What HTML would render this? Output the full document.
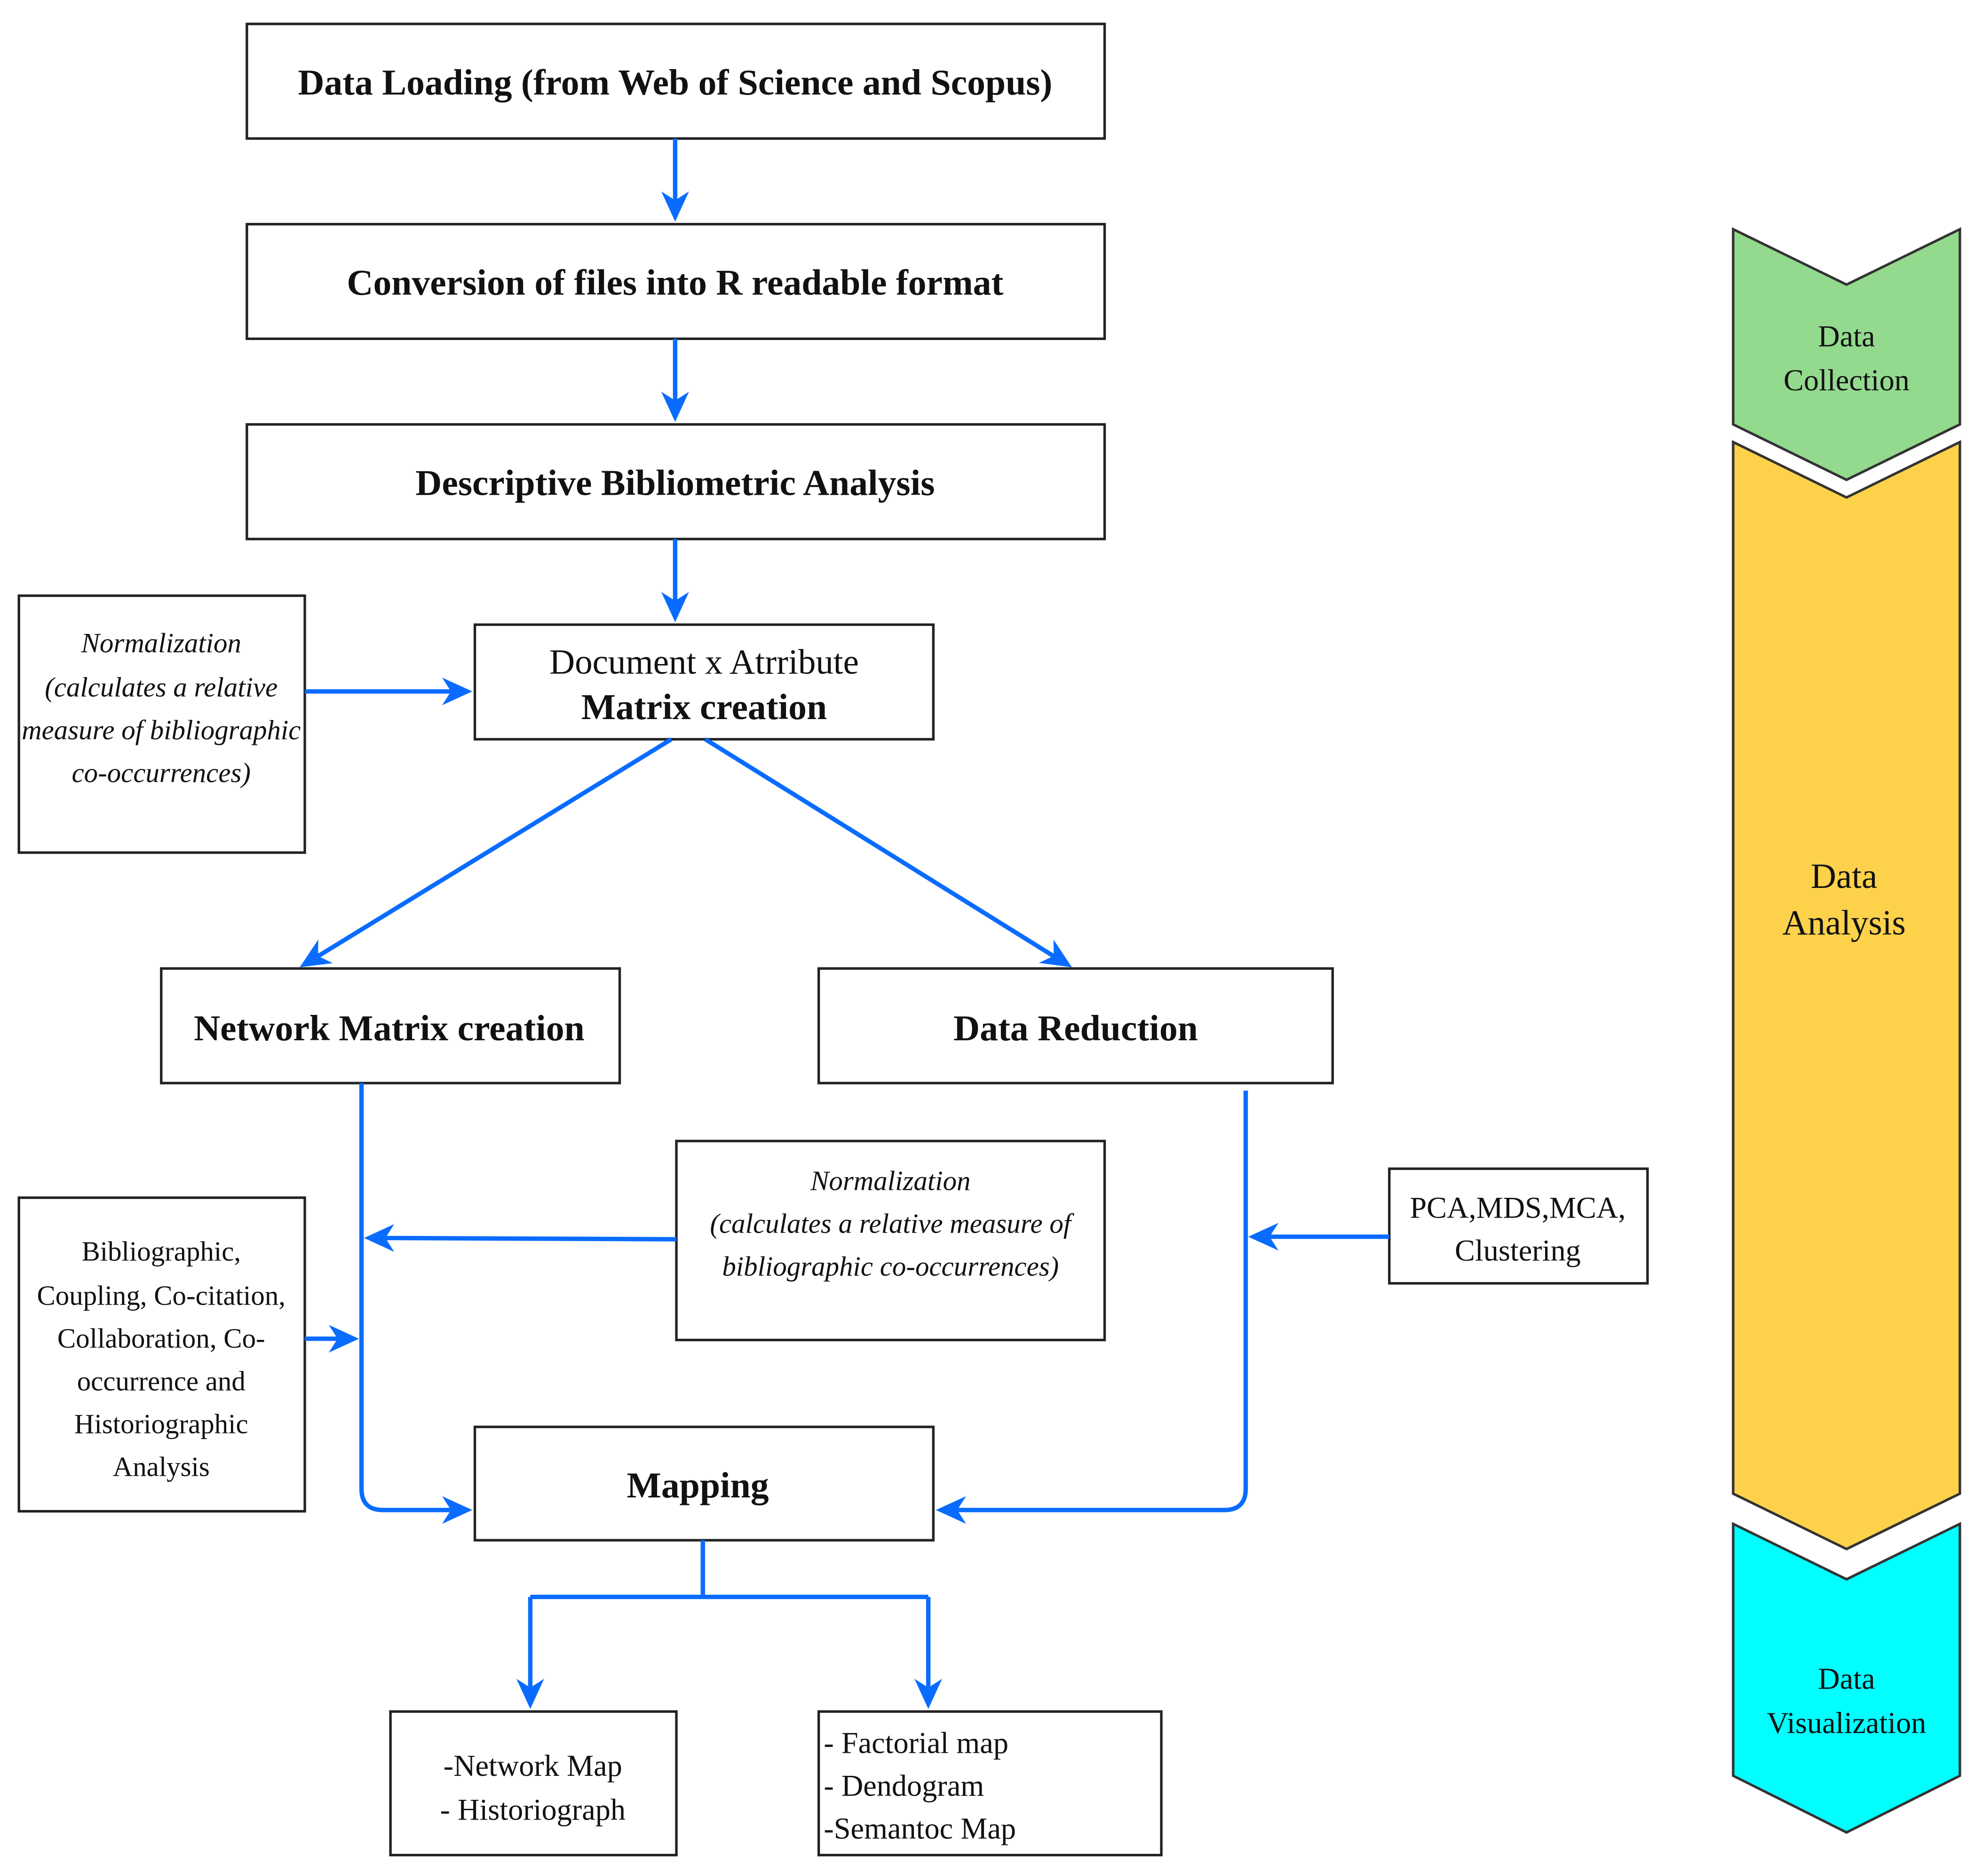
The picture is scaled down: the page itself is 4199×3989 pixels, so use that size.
<!DOCTYPE html>
<html><head><meta charset="utf-8"><style>html,body{margin:0;padding:0;background:#fff}svg{display:block}</style></head>
<body>
<svg width="4199" height="3989" viewBox="0 0 1568 1489.6" preserveAspectRatio="none" xmlns="http://www.w3.org/2000/svg" font-family="Liberation Serif, serif">
<g fill="#fff" stroke="#222" stroke-width="2">
<rect x="196" y="19" width="681" height="91"/>
<rect x="196" y="178" width="681" height="91"/>
<rect x="196" y="337" width="681" height="91"/>
<rect x="15" y="473" width="227" height="204"/>
<rect x="377" y="496" width="364" height="91"/>
<rect x="128" y="769" width="364" height="91"/>
<rect x="650" y="769" width="408" height="91"/>
<rect x="537" y="906" width="340" height="158"/>
<rect x="1103" y="928" width="205" height="91"/>
<rect x="15" y="951" width="227" height="249"/>
<rect x="377" y="1133" width="364" height="90"/>
<rect x="310" y="1359" width="227" height="114"/>
<rect x="650" y="1359" width="272" height="114"/>
</g>
<g stroke="#333" stroke-width="2">
<path d="M1376,182 L1466,226 L1556,182 L1556,337 L1466,381 L1376,337 Z" fill="#93d98e"/>
<path d="M1376,351 L1466,395 L1556,351 L1556,1186 L1466,1230 L1376,1186 Z" fill="#fdd14a"/>
<path d="M1376,1210 L1466,1254 L1556,1210 L1556,1410 L1466,1455 L1376,1410 Z" fill="#00ffff"/>
</g>
<g stroke="#0a6cff" stroke-width="3.5" fill="none">
<path d="M536,110 V165"/>
<path d="M536,269 V324"/>
<path d="M536,428 V483"/>
<path d="M242,549 H364"/>
<path d="M533,587 L248,762"/>
<path d="M560,587 L841,762"/>
<path d="M287,860 V1182 Q287,1199 304,1199 H364"/>
<path d="M537,984 L300,983"/>
<path d="M242,1063 H274"/>
<path d="M989,866 V1182 Q989,1199 972,1199 H754"/>
<path d="M1103,982 H1002"/>
<path d="M558,1223 V1268"/>
<path d="M421,1268 H737"/>
<path d="M421,1268 V1346"/>
<path d="M737,1268 V1346"/>
</g>
<g fill="#0a6cff">
<polygon points="536,176 525,152 536,159 547,152"/>
<polygon points="536,335 525,311 536,318 547,311"/>
<polygon points="536,494 525,470 536,477 547,470"/>
<polygon points="421,1357 410,1333 421,1340 432,1333"/>
<polygon points="737,1357 726,1333 737,1340 748,1333"/>
<polygon points="375,549 351,538 358,549 351,560"/>
<polygon points="375,1199 351,1188 358,1199 351,1210"/>
<polygon points="285,1063 261,1052 268,1063 261,1074"/>
<polygon points="289,983 313,972 306,983 313,994"/>
<polygon points="743,1199 767,1188 760,1199 767,1210"/>
<polygon points="991,982 1015,971 1008,982 1015,993"/>
<polygon points="238,768 264.2,764.8 252.5,759.1 252.7,746"/>
<polygon points="851,768 824.8,764.6 836.6,759 836.4,746"/>
</g>
<g fill="#111" text-anchor="middle">
<text x="536" y="75" font-size="29" font-weight="bold">Data Loading (from Web of Science and Scopus)</text>
<text x="536" y="234" font-size="29" font-weight="bold">Conversion of files into R readable format</text>
<text x="536" y="393" font-size="29" font-weight="bold">Descriptive Bibliometric Analysis</text>
<text x="559" y="535" font-size="28">Document x Atrribute</text>
<text x="559" y="571" font-size="29" font-weight="bold">Matrix creation</text>
<text x="309" y="826" font-size="29" font-weight="bold">Network Matrix creation</text>
<text x="854" y="826" font-size="29" font-weight="bold">Data Reduction</text>
<text x="554" y="1189" font-size="29" font-weight="bold">Mapping</text>
<g font-style="italic" font-size="22">
<text x="128" y="518">Normalization</text>
<text x="128" y="553">(calculates a relative</text>
<text x="128" y="587">measure of bibliographic</text>
<text x="128" y="621">co-occurrences)</text>
<text x="707" y="945">Normalization</text>
<text x="707" y="979">(calculates a relative measure of</text>
<text x="707" y="1013">bibliographic co-occurrences)</text>
</g>
<g font-size="22">
<text x="128" y="1001">Bibliographic,</text>
<text x="128" y="1036">Coupling, Co-citation,</text>
<text x="128" y="1070">Collaboration, Co-</text>
<text x="128" y="1104">occurrence and</text>
<text x="128" y="1138">Historiographic</text>
<text x="128" y="1172">Analysis</text>
<text x="1205" y="967" font-size="24">PCA,MDS,MCA,</text>
<text x="1205" y="1001" font-size="24">Clustering</text>
<text x="423" y="1410" font-size="24">-Network Map</text>
<text x="423" y="1445" font-size="24">- Historiograph</text>
<text x="1466" y="275" font-size="24">Data</text>
<text x="1466" y="310" font-size="24">Collection</text>
<text x="1464" y="705" font-size="28">Data</text>
<text x="1464" y="742" font-size="28">Analysis</text>
<text x="1466" y="1341" font-size="24">Data</text>
<text x="1466" y="1376" font-size="24">Visualization</text>
</g>
<g font-size="24" text-anchor="start">
<text x="654" y="1392">- Factorial map</text>
<text x="654" y="1426">- Dendogram</text>
<text x="654" y="1460">-Semantoc Map</text>
</g>
</g>
</svg>
</body></html>
